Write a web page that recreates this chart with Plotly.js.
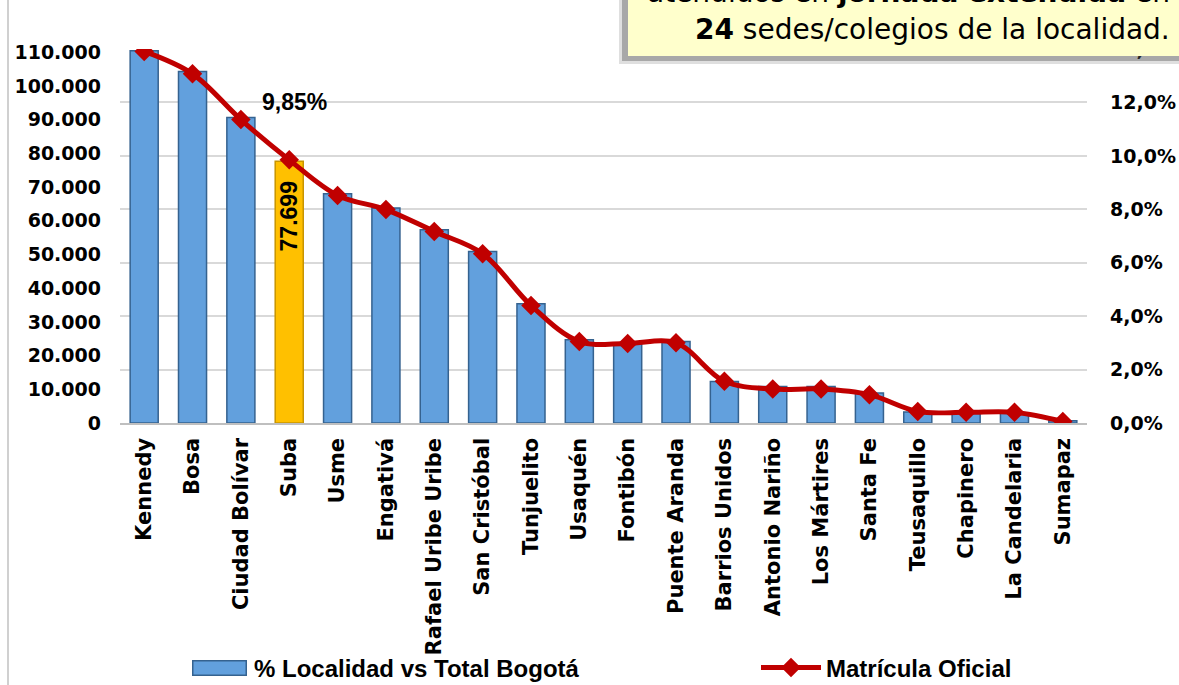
<!DOCTYPE html>
<html>
<head>
<meta charset="utf-8">
<script src="https://cdn.plot.ly/plotly-3.0.1.min.js"></script>
<style>
  html, body { margin: 0; padding: 0; background: #fff; overflow: hidden; }
  #chart { width: 1179px; height: 685px; }
</style>
</head>
<body>
<div id="chart"></div>
<script>
// ---- DATA ----
const localidades = ["Kennedy", "Bosa", "Ciudad Bolívar", "Suba", "Usme", "Engativá",
  "Rafael Uribe Uribe", "San Cristóbal", "Tunjuelito", "Usaquén", "Fontibón",
  "Puente Aranda", "Barrios Unidos", "Antonio Nariño", "Los Mártires", "Santa Fe",
  "Teusaquillo", "Chapinero", "La Candelaria", "Sumapaz"];

// bars (read against left axis)
const barValues = [110500, 104350, 90700, 77699, 68050, 63800, 57370, 50930, 35400,
  24720, 23740, 24220, 12350, 10860, 10860, 8900, 3260, 3060, 3060, 680];

// line (percent, right axis)
const linePct = [13.91, 13.07, 11.36, 9.85, 8.52, 7.99, 7.17, 6.34, 4.40, 3.05,
  2.98, 3.00, 1.56, 1.27, 1.27, 1.06, 0.43, 0.40, 0.40, 0.06];

const highlighted = "Suba";
const barName = "% Localidad vs Total Bogotá";
const lineName = "Matrícula Oficial";
const leftTicks = [0, 10000, 20000, 30000, 40000, 50000, 60000, 70000, 80000, 90000, 100000, 110000];
const rightTicks = [0, 2, 4, 6, 8, 10, 12, 14];
const calloutLine1 = "atendidos en <b>jornada extendida</b> en";
const calloutLine2 = "<b>24</b> sedes/colegios de la localidad.";

// ---- HELPERS ----
const W = 1179, H = 685;
const M = {l: 120, r: 92, t: 49, b: 262, autoexpand: false};
const pw = W - M.l - M.r, ph = H - M.t - M.b;
const px = x => (x - M.l) / pw;           // pixel -> paper x
const py = y => (H - M.b - y) / ph;       // pixel -> paper y

function fmtThousands(v) {
  return String(Math.round(v)).replace(/\B(?=(\d{3})+(?!\d))/g, ".");
}
function fmtPct(v, d) {
  return v.toFixed(d).replace(".", ",") + "%";
}

const axisFont = {family: "DejaVu Sans, Arial, sans-serif", size: 19, color: "#000", weight: 700};
const catFont = {family: "DejaVu Sans, Arial, sans-serif", size: 21, color: "#000", weight: 700};
const legendFont = {family: "Liberation Sans, Arial, sans-serif", size: 24, color: "#000", weight: 700};

const BLUE = "#62A0DD", BLUE_EDGE = "#35628F";
const GOLD = "#FFC000", GOLD_EDGE = "#C89400";
const barColors = localidades.map(c => c === highlighted ? GOLD : BLUE);
const barLines = localidades.map(c => c === highlighted ? GOLD_EDGE : BLUE_EDGE);
const hi = localidades.indexOf(highlighted);

const traces = [
  {
    type: "bar",
    name: barName,
    legend: "legend",
    x: localidades,
    y: barValues,
    yaxis: "y",
    marker: {color: barColors, line: {color: barLines, width: 1.5}},
    hoverinfo: "x+y"
  },
  {
    type: "scatter",
    mode: "lines+markers",
    name: lineName,
    legend: "legend2",
    x: localidades,
    y: linePct,
    yaxis: "y2",
    line: {color: "#C00000", width: 5, shape: "spline", smoothing: 1},
    marker: {symbol: "diamond", size: 15, color: "#C00000"},
    hoverinfo: "x+y"
  }
];

const layout = {
  width: W, height: H,
  margin: M,
  paper_bgcolor: "#fff",
  plot_bgcolor: "rgba(0,0,0,0)",
  separators: ",.",
  bargap: 0.42,
  showlegend: true,
  legend: {
    xref: "container", yref: "container",
    x: 184 / W, xanchor: "left",
    y: 1 - 668 / H, yanchor: "middle",
    font: legendFont, itemwidth: 60, bgcolor: "rgba(0,0,0,0)"
  },
  legend2: {
    xref: "container", yref: "container",
    x: 756 / W, xanchor: "left",
    y: 1 - 668 / H, yanchor: "middle",
    font: legendFont, itemwidth: 60, bgcolor: "rgba(0,0,0,0)"
  },
  xaxis: {
    type: "category",
    range: [-0.5, localidades.length - 0.5],
    autorange: false,
    tickangle: -90,
    tickfont: catFont,
    showline: true, linecolor: "#BFBFBF", linewidth: 1.5,
    showgrid: false, ticks: "",
    ticklabelstandoff: 5,
    automargin: false
  },
  yaxis: {
    range: [0, 111000],
    tickvals: leftTicks,
    ticktext: leftTicks.map(fmtThousands),
    tickfont: axisFont,
    showgrid: false, zeroline: false, showline: false,
    ticks: "", ticklabelstandoff: 18,
    automargin: false
  },
  yaxis2: {
    overlaying: "y", side: "right",
    range: [0, 14],
    tickvals: rightTicks,
    ticktext: rightTicks.map(v => fmtPct(v, 1)),
    tickfont: axisFont,
    showgrid: true, gridcolor: "#D9D9D9", gridwidth: 2,
    zeroline: false, showline: false,
    ticks: "", ticklabelstandoff: 22,
    automargin: false
  },
  shapes: [
    // outer frame line on the left
    {type: "line", xref: "paper", yref: "paper", x0: px(8), x1: px(8), y0: py(H + 2), y1: py(-2),
      line: {color: "#D0D0D0", width: 2}},
    // callout soft shadow
    {type: "rect", xref: "paper", yref: "paper", x0: px(619), x1: px(1200), y0: py(64), y1: py(-20),
      fillcolor: "rgba(80,80,80,0.18)", line: {width: 0}},
    {type: "rect", xref: "paper", yref: "paper", x0: px(622), x1: px(1200), y0: py(61), y1: py(-20),
      fillcolor: "rgba(80,80,80,0.38)", line: {width: 0}},
    // callout box
    {type: "rect", xref: "paper", yref: "paper", x0: px(628), x1: px(1200), y0: py(56), y1: py(-20),
      fillcolor: "#FFFFCC", line: {width: 0}}
  ],
  annotations: [
    // wide legend swatch for the bar series (drawn over the legend's small square)
    {
      xref: "paper", yref: "paper", x: px(219), y: py(668), xanchor: "center", yanchor: "middle",
      text: " ", showarrow: false, width: 52, height: 13,
      bgcolor: BLUE, bordercolor: BLUE_EDGE, borderwidth: 1.5, borderpad: 0,
      font: {size: 6}
    },
    {
      xref: "x", yref: "y2", x: highlighted, y: linePct[hi],
      text: fmtPct(linePct[hi], 2),
      showarrow: false, xshift: 5, yshift: 58,
      font: {family: "Liberation Sans, Arial, sans-serif", size: 23, color: "#000", weight: 700}
    },
    {
      xref: "x", yref: "y", x: highlighted, y: barValues[hi],
      text: fmtThousands(barValues[hi]),
      textangle: -90, showarrow: false,
      yanchor: "top", yshift: -18,
      font: {family: "Liberation Sans, Arial, sans-serif", size: 23, color: "#000", weight: 700}
    },
    {
      xref: "paper", yref: "paper", x: px(1172), xanchor: "right", y: py(-8), yanchor: "middle",
      text: calloutLine1, showarrow: false,
      font: {family: "DejaVu Sans, Tahoma, sans-serif", size: 28, color: "#000"}
    },
    {
      xref: "paper", yref: "paper", x: px(1172), xanchor: "right", y: py(29), yanchor: "middle",
      text: calloutLine2, showarrow: false,
      font: {family: "DejaVu Sans, Tahoma, sans-serif", size: 28, color: "#000"}
    }
  ]
};

Plotly.newPlot("chart", traces, layout, {displayModeBar: false, staticPlot: true});
</script>
</body>
</html>
